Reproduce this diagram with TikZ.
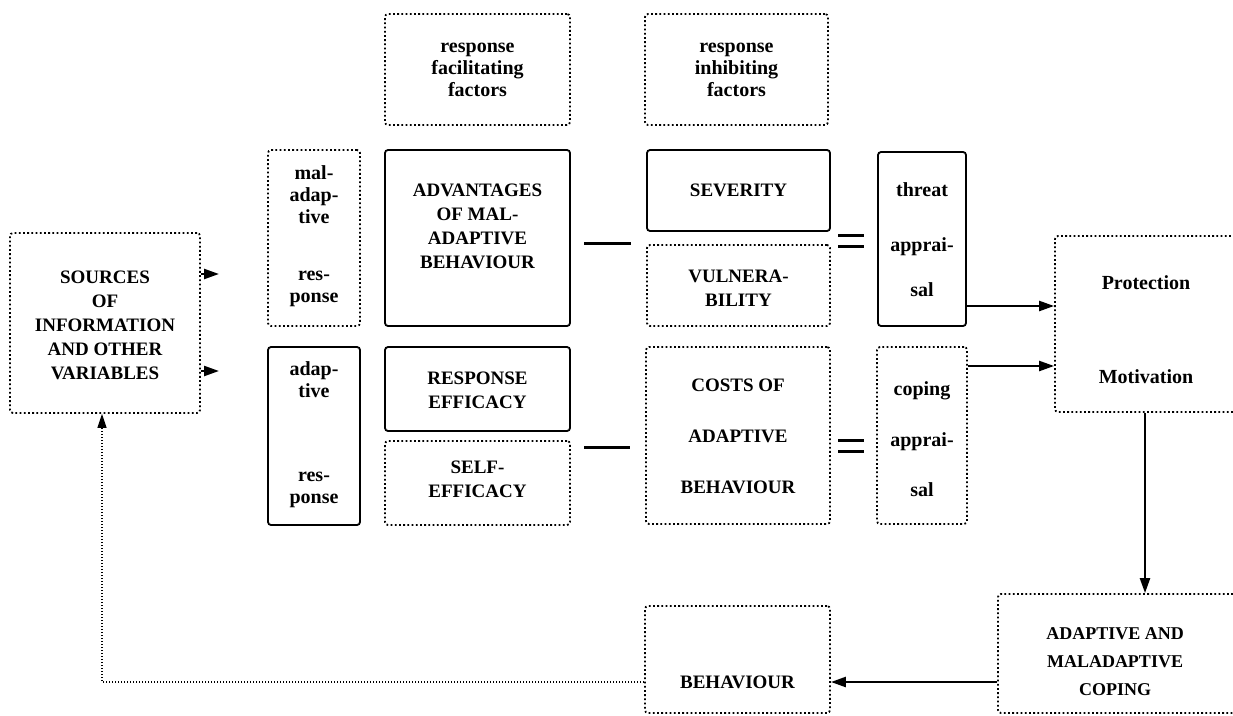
\documentclass[tikz,border=0pt]{standalone}
\usepackage{fontspec}
\setmainfont{Liberation Serif}
\usetikzlibrary{arrows.meta}
\begin{document}
\begin{tikzpicture}[x=1pt,y=-1pt,
 bx/.style={draw, line width=1.8pt, rounded corners=3pt, inner sep=0pt},
 sbox/.style={bx},
 dbox/.style={bx, dash pattern=on 1.8pt off 2.4pt},
 captxt/.style={font=\fontsize{19}{24}\selectfont\bfseries, align=center, inner sep=0pt},
 lowtxt/.style={font=\fontsize{20}{22}\selectfont\bfseries, align=center, inner sep=0pt},
 arr/.style={line width=2.3pt, -{Triangle[length=15pt,width=10pt]}},
 fb/.style={line width=1.2pt, dash pattern=on 1.5pt off 1.5pt, -{Triangle[length=14pt,width=9pt]}},
 opline/.style={line width=3pt}
]
\useasboundingbox (0,0) rectangle (1233,715);
\clip (0,0) rectangle (1233,715);

% boxes
\node[dbox, minimum width=185pt, minimum height=111pt] (rf) at (477.5,69.5) {};
\node[dbox, minimum width=183pt, minimum height=111pt] (ri) at (736.5,69.5) {};
\node[dbox, minimum width=92pt, minimum height=176pt] (mr) at (314,238) {};
\node[sbox, minimum width=185pt, minimum height=176pt] (adv) at (477.5,238) {};
\node[sbox, minimum width=183pt, minimum height=81pt] (sev) at (738.5,190.5) {};
\node[dbox, minimum width=183pt, minimum height=81pt] (vul) at (738.5,285.5) {};
\node[sbox, minimum width=88pt, minimum height=174pt] (ta) at (922,239) {};
\node[sbox, minimum width=92pt, minimum height=178pt] (ar) at (314,436) {};
\node[sbox, minimum width=185pt, minimum height=84pt] (re) at (477.5,389) {};
\node[dbox, minimum width=185pt, minimum height=84pt] (se) at (477.5,483) {};
\node[dbox, minimum width=184pt, minimum height=177pt] (costs) at (738,435.5) {};
\node[dbox, minimum width=90pt, minimum height=177pt] (ca) at (922,435.5) {};
\node[dbox, minimum width=190pt, minimum height=180pt] (src) at (105,323) {};
\node[dbox, minimum width=183pt, minimum height=176pt] (pm) at (1146.5,324) {};
\node[dbox, minimum width=185pt, minimum height=107pt] (beh) at (737.5,659.5) {};
\node[dbox, minimum width=238pt, minimum height=119pt] (cop) at (1117,653.5) {};

% texts
\node[lowtxt] (rfT) at (477.5,70) {response\\facilitating\\factors};
\node[lowtxt] (riT) at (736.5,70) {response\\inhibiting\\factors};
\node[lowtxt] (mrT) at (314,236) {mal-\\adap-\\tive\\[35pt]res-\\ponse};
\node[captxt] (advT) at (477.5,226) {ADVANTAGES\\OF MAL-\\ADAPTIVE\\BEHAVIOUR};
\node[captxt] (sevT) at (738.5,190) {SEVERITY};
\node[captxt] (vulT) at (738.5,288) {VULNERA-\\BILITY};
\node[lowtxt] (taT) at (922,240) {threat\\[33pt]apprai-\\[23pt]sal};
\node[lowtxt] (arT) at (314,435) {adap-\\tive\\[62pt]res-\\ponse};
\node[captxt] (reT) at (477.5,390) {RESPONSE\\EFFICACY};
\node[captxt] (seT) at (477.5,479) {SELF-\\EFFICACY};
\node[captxt] (costsT) at (738,436) {COSTS OF\\[27pt]ADAPTIVE\\[27pt]BEHAVIOUR};
\node[lowtxt] (caT) at (922,439) {coping\\[29pt]apprai-\\[28pt]sal};
\node[captxt] (srcT) at (105,325) {SOURCES\\OF\\INFORMATION\\AND OTHER\\VARIABLES};
\node[lowtxt] (pmT) at (1146,330) {Protection\\[72pt]Motivation};
\node[captxt] (behT) at (737.5,682) {BEHAVIOUR};
\node[captxt, font=\fontsize{18}{28}\selectfont\bfseries] (copT) at (1115,662) {ADAPTIVE AND\\MALADAPTIVE\\COPING};

% operators
\coordinate (m1a) at (584,243); \coordinate (m1b) at (631,243);
\coordinate (m2a) at (584,447); \coordinate (m2b) at (630,447);
\draw[opline] (m1a) -- (m1b);
\draw[opline] (m2a) -- (m2b);
\coordinate (e1a) at (838,235); \coordinate (e1b) at (864,235);
\coordinate (e1c) at (838,246); \coordinate (e1d) at (864,246);
\coordinate (e2a) at (838,440); \coordinate (e2b) at (864,440);
\coordinate (e2c) at (838,451); \coordinate (e2d) at (864,451);
\draw[opline] (e1a) -- (e1b) (e1c) -- (e1d);
\draw[opline] (e2a) -- (e2b) (e2c) -- (e2d);

% connectors
\coordinate (s1) at (219,274);
\coordinate (s2) at (219,371);
\draw[arr] (src.east |- s1) -- (s1);
\draw[arr] (src.east |- s2) -- (s2);
\coordinate (y1) at (0,306);
\coordinate (y2) at (0,366);
\draw[arr] (ta.east |- y1) -- (pm.west |- y1);
\draw[arr] (ca.east |- y2) -- (pm.west |- y2);
\coordinate (px) at (1145,0);
\draw[arr] (px |- pm.south) -- (px |- cop.north);
\coordinate (y3) at (0,682);
\draw[arr] (cop.west |- y3) -- (beh.east |- y3);
\coordinate (fx) at (102,0);
\draw[fb] (beh.west |- y3) -- (fx |- y3) -- (fx |- src.south);
\end{tikzpicture}
\end{document}
